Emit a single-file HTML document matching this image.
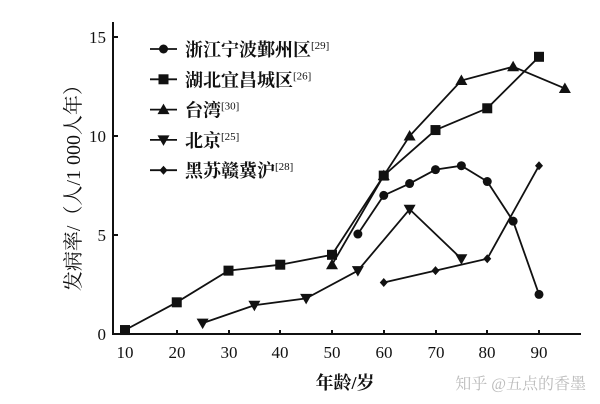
<!DOCTYPE html>
<html><head><meta charset="utf-8"><style>
html,body{margin:0;padding:0;background:#fff;width:600px;height:404px;overflow:hidden}
svg{display:block}
text{font-family:"Liberation Serif","Noto Serif CJK SC",serif;fill:#111}
</style></head><body>
<svg id="s" width="600" height="404" viewBox="0 0 600 404" xmlns="http://www.w3.org/2000/svg">
<g stroke="#111" stroke-width="2" fill="none">
<path d="M113 22 V334 H581"/>
<path d="M113 37 h5 M113 136 h5 M113 235 h5"/>
<path d="M125 334 v-4 M177 334 v-4 M229 334 v-4 M280 334 v-4 M332 334 v-4 M384 334 v-4 M436 334 v-4 M487 334 v-4 M539 334 v-4"/>
</g>
<g font-size="17" text-anchor="end">
<text x="106" y="43">15</text><text x="106" y="142">10</text><text x="106" y="241">5</text><text x="106" y="340">0</text>
</g>
<g font-size="17" text-anchor="middle">
<text x="125" y="358">10</text><text x="177" y="358">20</text><text x="229" y="358">30</text><text x="280" y="358">40</text><text x="332" y="358">50</text><text x="384" y="358">60</text><text x="436" y="358">70</text><text x="487" y="358">80</text><text x="539" y="358">90</text>
</g>
<text x="345" y="389" font-size="18" text-anchor="middle" font-family="Liberation Sans, Noto Sans CJK SC, sans-serif" font-weight="bold">年龄/岁</text>
<text x="0" y="0" font-size="20" text-anchor="middle" transform="translate(80,183) rotate(-90)" font-family="Liberation Sans, Noto Sans CJK SC, sans-serif">发病率/（人/1 000人年）</text>
<text x="586" y="389" font-size="16" text-anchor="end" style="fill:#bbb" font-family="Liberation Sans, Noto Sans CJK SC, sans-serif">知乎 @五点的香墨</text>
<g id="lg" font-size="18" font-weight="bold" font-family="Liberation Sans, Noto Sans CJK SC, sans-serif"></g>
<g id="pl"></g>
</svg>
<script>
var NS="http://www.w3.org/2000/svg";
function X(a){return 125+(a-10)*5.175}
function Y(v){return 334-v*19.8}
function mk(t,at){var e=document.createElementNS(NS,t);for(var k in at)e.setAttribute(k,at[k]);return e}
function marker(g,type,x,y){
 var e;
 if(type=='c')e=mk('circle',{cx:x,cy:y,r:4.5});
 if(type=='s')e=mk('rect',{x:x-5,y:y-5,width:10,height:10});
 if(type=='t')e=mk('path',{d:'M'+x+' '+(y-6)+'L'+(x+6)+' '+(y+4.5)+'L'+(x-6)+' '+(y+4.5)+'Z'});
 if(type=='v')e=mk('path',{d:'M'+x+' '+(y+6)+'L'+(x+6)+' '+(y-4.5)+'L'+(x-6)+' '+(y-4.5)+'Z'});
 if(type=='d')e=mk('path',{d:'M'+x+' '+(y-4.5)+'L'+(x+4)+' '+y+'L'+x+' '+(y+4.5)+'L'+(x-4)+' '+y+'Z'});
 e.setAttribute('fill','#111');g.appendChild(e);
}
var S=[
['c',[[55,5.05],[60,7.0],[65,7.6],[70,8.3],[75,8.5],[80,7.7],[85,5.7],[90,2.0]],'浙江宁波鄞州区','[29]'],
['s',[[10,0.2],[20,1.6],[30,3.2],[40,3.5],[50,4.0],[60,8.0],[70,10.3],[80,11.4],[90,14.0]],'湖北宜昌城区','[26]'],
['t',[[50,3.5],[60,8.0],[65,10.0],[75,12.8],[85,13.5],[95,12.4]],'台湾','[30]'],
['v',[[25,0.55],[35,1.45],[45,1.8],[55,3.2],[65,6.3],[75,3.8]],'北京','[25]'],
['d',[[60,2.6],[70,3.2],[80,3.8],[90,8.5]],'黑苏赣冀沪','[28]']
];
var pl=document.getElementById('pl'),lg=document.getElementById('lg');
S.forEach(function(s,i){
 var d=s[1].map(function(p,j){return (j?'L':'M')+X(p[0])+' '+Y(p[1])}).join('');
 pl.appendChild(mk('path',{d:d,stroke:'#111','stroke-width':1.8,fill:'none'}));
 s[1].forEach(function(p){marker(pl,s[0],X(p[0]),Y(p[1]))});
 var ly=49+i*30.3;
 lg.appendChild(mk('path',{d:'M150 '+ly+'H177',stroke:'#111','stroke-width':1.8}));
 marker(lg,s[0],163.5,ly);
 var t=mk('text',{x:185,y:ly+7});t.textContent=s[2];
 var sp=mk('tspan',{'font-size':11,dy:-7,'font-weight':'normal'});sp.textContent=s[3];t.appendChild(sp);
 lg.appendChild(t);
});
</script>
</body></html>
